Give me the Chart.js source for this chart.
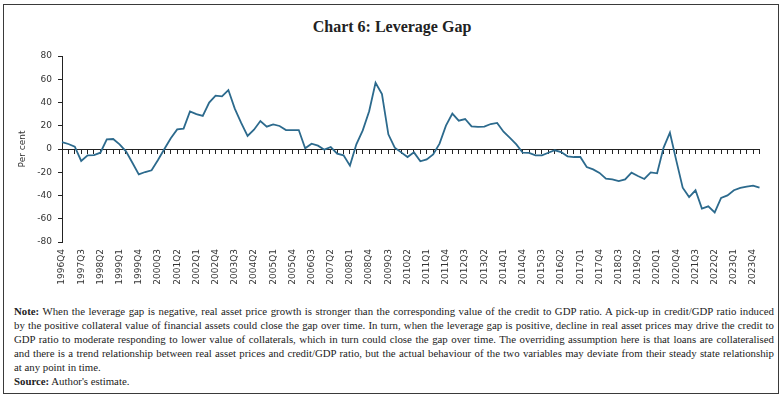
<!DOCTYPE html>
<html>
<head>
<meta charset="utf-8">
<script src="https://cdn.jsdelivr.net/npm/chart.js@4.4.1/dist/chart.umd.min.js"></script>
<style>
  html, body { margin: 0; padding: 0; background: #fff; }
  body { width: 784px; height: 398px; position: relative; overflow: hidden; }
  #frame { position: absolute; left: 3px; top: 4px; width: 776px; height: 390px; border: 1px solid #3a3a3a; box-sizing: border-box; }
  #title { position: absolute; left: 0; top: 17px; width: 784px; text-align: center;
           font-family: "Liberation Serif", serif; font-weight: bold; font-size: 16px; line-height: 20px; color: #222; }
  #chartWrap { position: absolute; left: 0; top: 0; width: 784px; height: 300px; }
  #note { position: absolute; left: 14px; top: 304px; width: 760px;
          font-family: "Liberation Serif", serif; font-size: 10.8px; line-height: 14px; color: #222; }
  #note .l { text-align: justify; text-align-last: justify; white-space: nowrap; overflow: visible; }
  #note .l.last { text-align-last: left; }
  #note b { font-weight: bold; }
</style>
</head>
<body>
<div id="frame"></div>
<div id="title">Chart 6: Leverage Gap</div>
<div id="chartWrap"><canvas id="c" width="784" height="300"></canvas></div>
<div id="note">
  <div class="l"><b>Note:</b> When the leverage gap is negative, real asset price growth is stronger than the corresponding value of the credit to GDP ratio. A pick-up in credit/GDP ratio induced</div>
  <div class="l">by the positive collateral value of financial assets could close the gap over time. In turn, when the leverage gap is positive, decline in real asset prices may drive the credit to</div>
  <div class="l">GDP ratio to moderate responding to lower value of collaterals, which in turn could close the gap over time. The overriding assumption here is that loans are collateralised</div>
  <div class="l">and there is a trend relationship between real asset prices and credit/GDP ratio, but the actual behaviour of the two variables may deviate from their steady state relationship</div>
  <div class="l last">at any point in time.</div>
  <div class="l last"><b>Source:</b> Author's estimate.</div>
</div>
<script>
const quarters = [
  "1996Q4",
  "1997Q1","1997Q2","1997Q3","1997Q4",
  "1998Q1","1998Q2","1998Q3","1998Q4",
  "1999Q1","1999Q2","1999Q3","1999Q4",
  "2000Q1","2000Q2","2000Q3","2000Q4",
  "2001Q1","2001Q2","2001Q3","2001Q4",
  "2002Q1","2002Q2","2002Q3","2002Q4",
  "2003Q1","2003Q2","2003Q3","2003Q4",
  "2004Q1","2004Q2","2004Q3","2004Q4",
  "2005Q1","2005Q2","2005Q3","2005Q4",
  "2006Q1","2006Q2","2006Q3","2006Q4",
  "2007Q1","2007Q2","2007Q3","2007Q4",
  "2008Q1","2008Q2","2008Q3","2008Q4",
  "2009Q1","2009Q2","2009Q3","2009Q4",
  "2010Q1","2010Q2","2010Q3","2010Q4",
  "2011Q1","2011Q2","2011Q3","2011Q4",
  "2012Q1","2012Q2","2012Q3","2012Q4",
  "2013Q1","2013Q2","2013Q3","2013Q4",
  "2014Q1","2014Q2","2014Q3","2014Q4",
  "2015Q1","2015Q2","2015Q3","2015Q4",
  "2016Q1","2016Q2","2016Q3","2016Q4",
  "2017Q1","2017Q2","2017Q3","2017Q4",
  "2018Q1","2018Q2","2018Q3","2018Q4",
  "2019Q1","2019Q2","2019Q3","2019Q4",
  "2020Q1","2020Q2","2020Q3","2020Q4",
  "2021Q1","2021Q2","2021Q3","2021Q4",
  "2022Q1","2022Q2","2022Q3","2022Q4",
  "2023Q1","2023Q2","2023Q3","2023Q4",
  "2024Q1"
];

const leverageGap = [
  6.0,
  4.3, 2.0, -10.3, -5.4,
  -5.2, -3.2, 8.3, 8.6,
  4.0, -2.0, -11.8, -21.8,
  -19.8, -18.3, -9.5, 0.0,
  9.2, 16.9, 17.5, 32.4,
  30.0, 28.4, 39.9, 45.9,
  45.3, 50.7, 34.7, 22.4,
  11.2, 16.6, 24.1, 19.2,
  21.2, 19.8, 16.3, 16.3,
  16.3, 0.6, 4.6, 2.9,
  -0.6, 1.7, -4.0, -5.4,
  -14.3, 4.0, 16.0, 32.5,
  57.0, 47.3, 12.6, 1.1,
  -2.9, -6.9, -2.9, -10.6,
  -8.9, -4.6, 4.6, 20.1,
  30.4, 24.4, 25.8, 19.5,
  19.0, 19.3, 21.5, 22.4,
  14.9, 9.5, 3.9, -3.2,
  -3.3, -5.4, -5.4, -3.2,
  -1.1, -2.6, -6.3, -6.9,
  -6.9, -15.5, -17.5, -20.6,
  -25.5, -26.1, -27.6, -26.1,
  -20.4, -23.2, -25.8, -20.1,
  -20.9, 1.0, 14.0, -10.0,
  -33.3, -41.3, -35.5, -51.3,
  -49.3, -54.5, -42.1, -39.9,
  -35.5, -33.5, -32.4, -31.5,
  -33.3
];

const yTicks = [-80, -60, -40, -20, 0, 20, 40, 60, 80];
const labelEvery = 3;

const axisFont = { family: "'DejaVu Sans', Verdana, sans-serif", size: 9 };

new Chart(document.getElementById('c'), {
  type: 'line',
  data: {
    labels: quarters,
    datasets: [{
      data: leverageGap,
      borderColor: '#2c6a8d',
      borderWidth: 1.8,
      pointRadius: 0,
      tension: 0,
      fill: false
    }]
  },
  options: {
    responsive: false,
    animation: false,
    devicePixelRatio: 1,
    layout: { padding: { left: 0, top: 56, right: 24.5, bottom: 0 } },
    plugins: { legend: { display: false }, tooltip: { enabled: false }, title: { display: false } },
    scales: {
      x: {
        type: 'category',
        position: 'bottom',
        offset: false,
        grid: { display: false, drawTicks: false },
        border: { display: false },
        ticks: {
          autoSkip: false,
          maxRotation: 90,
          minRotation: 90,
          padding: 7,
          color: '#333',
          font: axisFont,
          callback: function(v, i) { return i % labelEvery === 0 ? quarters[i] : ''; }
        },
        afterFit: function(s) { s.height = 58; }
      },
      x2: {
        type: 'category',
        position: { y: 0 },
        offset: false,
        grid: { display: true, drawOnChartArea: false, drawTicks: true, tickLength: 4, color: '#222', lineWidth: 1 },
        border: { display: true, color: '#222', width: 1 },
        ticks: { display: false, autoSkip: false }
      },
      y: {
        min: -80,
        max: 80,
        afterBuildTicks: function(s) { s.ticks = yTicks.map(v => ({ value: v })); },
        grid: { display: true, drawOnChartArea: false, drawTicks: true, tickLength: 4, color: '#222', lineWidth: 1 },
        border: { display: true, color: '#222', width: 1 },
        ticks: { padding: 6, color: '#333', font: axisFont },
        title: { display: true, text: 'Per cent', color: '#333', font: axisFont, padding: { top: 17, bottom: 0 } },
        afterFit: function(s) { s.width = 62; }
      }
    }
  }
});
</script>
</body>
</html>
